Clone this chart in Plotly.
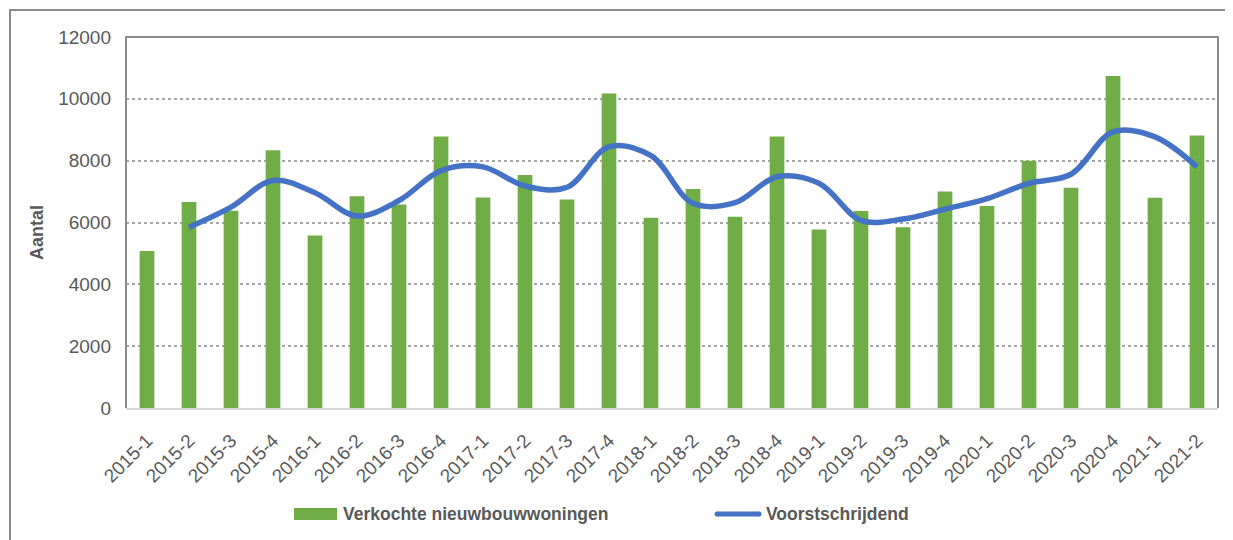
import plotly.graph_objects as go

categories = ["2015-1", "2015-2", "2015-3", "2015-4", "2016-1", "2016-2", "2016-3", "2016-4",
              "2017-1", "2017-2", "2017-3", "2017-4", "2018-1", "2018-2", "2018-3", "2018-4",
              "2019-1", "2019-2", "2019-3", "2019-4", "2020-1", "2020-2", "2020-3", "2020-4",
              "2021-1", "2021-2"]

verkocht = [5080, 6660, 6380, 8340, 5580, 6850, 6580, 8780,
            6810, 7540, 6740, 10170, 6150, 7080, 6190, 8780,
            5770, 6370, 5850, 7000, 6530, 8000, 7120, 10740,
            6800, 8810]

voortschrijdend_cats = categories[1:]
voortschrijdend = [5850, 6500, 7360, 6960, 6210, 6710, 7680, 7800,
                   7180, 7140, 8450, 8160, 6620, 6640, 7480, 7270,
                   6070, 6110, 6430, 6770, 7270, 7560, 8930, 8770, 7800]

y_ticks = [0, 2000, 4000, 6000, 8000, 10000, 12000]

series_names = ["Verkochte nieuwbouwwoningen", "Voorstschrijdend"]
bar_color = "#70AD47"
line_color = "#4472C4"

FONT = "Liberation Sans, Arial, sans-serif"
TXT = "#595959"

# The page body has an 8px margin, so the figure is drawn 8px in from the window edge.
OFF = 8
W, H = 1233 - OFF, 540 - OFF
# plot area in window pixels: x 126..1218, y 37..408
L, T = 126 - OFF, 37 - OFF
R, B = W - (1218 - OFF), H - (408 - OFF)
PW, PH = W - L - R, H - T - B


def px(x):  # window x pixel -> paper
    return (x - OFF - L) / PW


def py(y):  # window y pixel -> paper
    return (H - B - (y - OFF)) / PH


fig = go.Figure()
fig.add_trace(go.Bar(
    x=categories, y=verkocht, name=series_names[0],
    marker=dict(color=bar_color, line=dict(width=0)), showlegend=False,
))
fig.add_trace(go.Scatter(
    x=voortschrijdend_cats, y=voortschrijdend, name=series_names[1],
    mode="lines", line=dict(color=line_color, width=5.5, shape="spline", smoothing=1.0),
    showlegend=False,
))

legend_y = 514
shapes = [
    # plot area frame (left, top, right)
    dict(type="path", xref="paper", yref="paper",
         path="M 0 0 L 0 1 L 1 1 L 1 0",
         line=dict(color="#8C8C8C", width=2), layer="above"),
    # outer chart border (cropped on right/bottom)
    dict(type="rect", xref="paper", yref="paper",
         x0=px(10), x1=px(1260), y0=py(570), y1=py(10),
         line=dict(color="#8C8C8C", width=2), layer="above"),
    # legend keys
    dict(type="rect", xref="paper", yref="paper",
         x0=px(294), x1=px(337), y0=py(520), y1=py(508),
         fillcolor=bar_color, line=dict(width=0)),
    dict(type="line", xref="paper", yref="paper",
         x0=px(717), x1=px(759), y0=py(legend_y), y1=py(legend_y),
         line=dict(color=line_color, width=5)),
]
for cx in (717, 759):
    shapes.append(dict(type="circle", xref="paper", yref="paper",
                       x0=px(cx - 2.5), x1=px(cx + 2.5), y0=py(legend_y + 2.5), y1=py(legend_y - 2.5),
                       fillcolor=line_color, line=dict(width=0)))

annotations = [
    dict(text="<b>Aantal</b>", xref="paper", yref="paper", x=px(37), y=py(233),
         textangle=-90, showarrow=False, xanchor="center", yanchor="middle",
         font=dict(family=FONT, size=18, color=TXT)),
    dict(text=f"<b>{series_names[0]}</b>", xref="paper", yref="paper", x=px(341), y=py(legend_y),
         showarrow=False, xanchor="left", yanchor="middle",
         font=dict(family=FONT, size=17.5, color=TXT)),
    dict(text=f"<b>{series_names[1]}</b>", xref="paper", yref="paper", x=px(764), y=py(legend_y),
         showarrow=False, xanchor="left", yanchor="middle",
         font=dict(family=FONT, size=17.5, color=TXT)),
]

fig.update_layout(
    width=W, height=H,
    margin=dict(l=L, r=R, t=T, b=B, autoexpand=False),
    paper_bgcolor="white", plot_bgcolor="white",
    bargap=0.65,
    font=dict(family=FONT, color=TXT, size=17),
    showlegend=False,
    xaxis=dict(
        type="category", tickangle=-45, showgrid=False, automargin=False,
        showline=True, linecolor="#D9D9D9", linewidth=2, mirror=False,
        ticks="", ticklabelstandoff=12, ticklabelshift=0,
        tickfont=dict(size=19, color=TXT, family=FONT),
    ),
    yaxis=dict(
        range=[0, 12000], tickvals=y_ticks, ticktext=[str(v) for v in y_ticks],
        showgrid=True, gridcolor="#A6A6A6", griddash="dot", gridwidth=1.5,
        zeroline=False, showline=False, ticks="", ticklabelstandoff=14,
        automargin=False,
        tickfont=dict(size=19, color=TXT, family=FONT),
    ),
    shapes=shapes,
    annotations=annotations,
)

fig.write_html("out.html")
